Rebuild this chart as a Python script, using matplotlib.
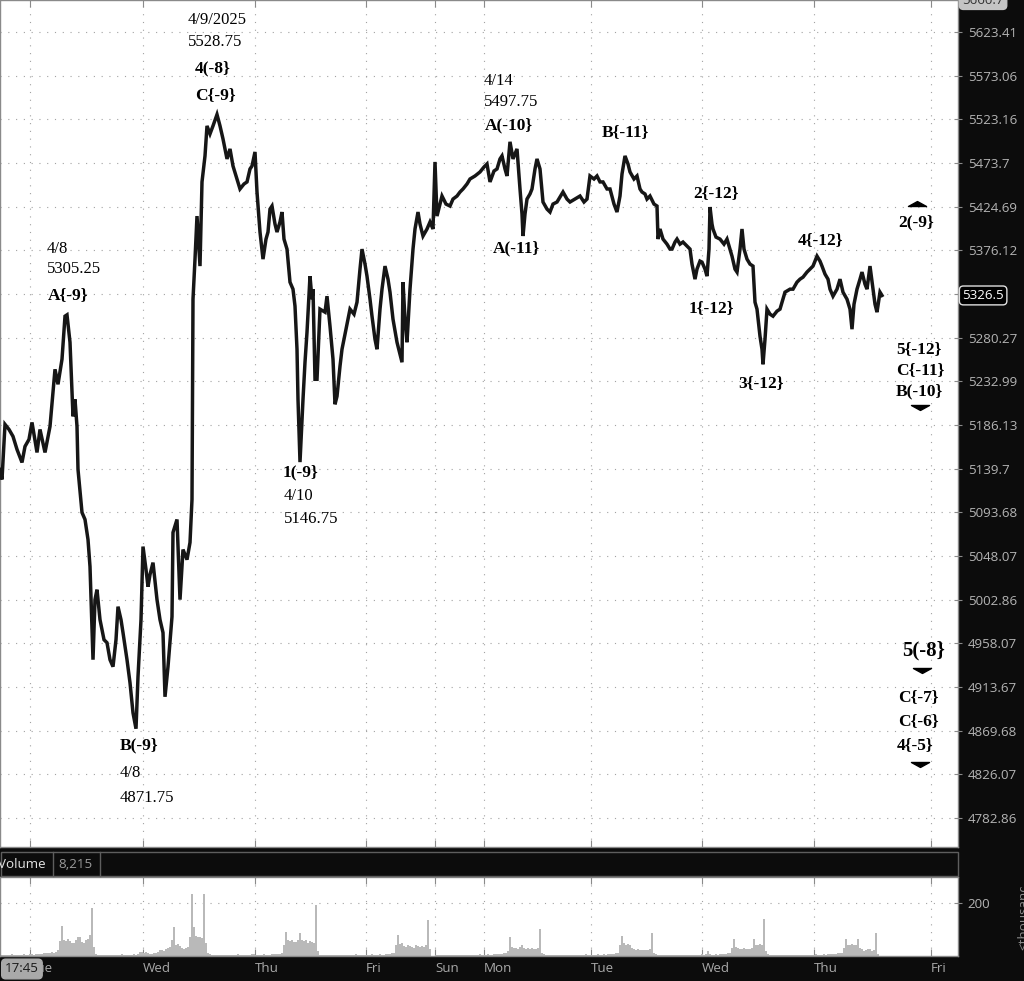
import matplotlib
matplotlib.use("Agg")
import matplotlib.pyplot as plt
from matplotlib import transforms
from matplotlib.patches import Rectangle
from matplotlib.ticker import NullLocator, FixedLocator, FixedFormatter
from matplotlib.path import Path

# ---------------- data ----------------
bar_x = [0, 2, 5, 9, 13, 17, 22, 25, 29, 32, 37, 40, 45, 50, 53, 55, 58, 62, 65, 67,
         70, 73, 75, 77, 78, 82, 85, 88, 90, 93, 95, 97, 100, 104, 107, 110, 113, 116, 118, 121,
         123, 127, 130, 133, 136, 138, 141, 143, 146, 148, 150, 153, 157, 160, 163, 165, 168, 172, 173, 177,
         180, 183, 187, 190, 192, 193, 195, 197, 200, 202, 205, 207, 210, 213, 217, 220, 223, 227, 230, 233,
         237, 240, 244, 247, 250, 252, 255, 257, 260, 263, 266, 268, 270, 272, 275, 277, 280, 282, 284, 287,
         290, 293, 295, 297, 298, 300, 302, 303, 305, 307, 310, 312, 313, 315, 317, 320, 325, 327, 330, 333,
         335, 337, 340, 342, 346, 350, 354, 357, 360, 362, 365, 367, 370, 372, 375, 377, 380, 382, 385, 388,
         390, 393, 397, 400, 402, 403, 405, 407, 410, 413, 415, 418, 420, 423, 427, 430, 433, 435, 437, 440,
         442, 446, 450, 453, 457, 460, 463, 467, 470, 475, 480, 484, 487, 490, 494, 497, 500, 502, 505, 507,
         510, 513, 517, 520, 522, 523, 525, 527, 530, 532, 535, 537, 540, 543, 547, 550, 553, 557, 560, 563,
         567, 570, 575, 580, 584, 587, 590, 594, 597, 600, 603, 607, 610, 614, 617, 620, 622, 625, 628, 630,
         634, 637, 640, 642, 645, 647, 650, 654, 657, 658, 660, 663, 667, 670, 672, 675, 677, 680, 683, 687,
         690, 692, 695, 697, 700, 702, 705, 707, 709, 710, 712, 713, 716, 720, 724, 727, 730, 732, 735, 737,
         740, 742, 744, 747, 750, 753, 755, 757, 760, 762, 763, 765, 767, 770, 773, 777, 780, 783, 785, 790,
         793, 797, 800, 803, 807, 810, 813, 817, 820, 822, 825, 828, 830, 833, 837, 840, 843, 847, 850, 852,
         854, 857, 860, 862, 865, 867, 870, 873, 875, 877, 880, 882]

price = [5139.0, 5128.4, 5186.9, 5181.5, 5174.1, 5160.2, 5146.4, 5163.4, 5170.9, 5189.0, 5157.0, 5181.5, 5157.0, 5184.7, 5221.3, 5246.1, 5229.9, 5257.0, 5303.8, 5305.25,
         5275.4, 5195.5, 5213.7, 5184.7, 5139.0, 5093.6, 5086.3, 5065.3, 5037.2, 4941.5, 5003.0, 5013.3, 4982.4, 4961.9, 4958.8, 4941.5, 4934.4, 4961.9, 4995.8, 4982.4,
         4969.1, 4941.5, 4918.1, 4887.7, 4871.75, 4924.2, 4982.4, 5058.0, 5034.1, 5016.4, 5028.9, 5041.3, 5003.0, 4982.4, 4969.1, 4903.9, 4934.4, 4985.5, 5072.7, 5086.3,
         5003.0, 5054.9, 5044.4, 5062.2, 5107.3, 5322.4, 5366.5, 5414.3, 5358.8, 5452.5, 5481.8, 5515.8, 5506.7, 5515.8, 5528.75, 5515.8, 5501.0, 5478.4, 5489.7, 5470.4,
         5455.8, 5444.6, 5450.2, 5452.5, 5467.1, 5470.4, 5486.3, 5441.2, 5396.5, 5366.5, 5388.7, 5396.5, 5422.1, 5425.5, 5405.4, 5396.5, 5407.7, 5418.8, 5388.7, 5377.6,
         5341.1, 5333.4, 5314.8, 5267.8, 5213.7, 5146.75, 5192.3, 5213.7, 5253.7, 5286.3, 5347.7, 5322.4, 5333.4, 5235.3, 5235.3, 5311.5, 5308.2, 5325.7, 5292.9, 5257.0,
         5208.4, 5217.0, 5249.4, 5267.8, 5289.6, 5311.5, 5306.0, 5319.1, 5355.5, 5377.6, 5361.0, 5347.7, 5322.4, 5303.8, 5278.6, 5267.8, 5311.5, 5333.4, 5358.8, 5344.4,
         5330.1, 5300.5, 5275.4, 5262.4, 5253.7, 5341.1, 5300.5, 5275.4, 5333.4, 5377.6, 5399.9, 5418.8, 5405.4, 5392.1, 5399.9, 5407.7, 5399.9, 5475.0, 5414.3, 5427.7,
         5436.7, 5427.7, 5425.5, 5433.3, 5436.7, 5441.2, 5444.6, 5450.2, 5455.8, 5459.2, 5463.7, 5469.3, 5472.7, 5452.5, 5464.8, 5467.1, 5478.4, 5481.8, 5467.1, 5459.2,
         5497.75, 5478.4, 5489.7, 5444.6, 5416.6, 5392.1, 5416.6, 5433.3, 5439.0, 5444.6, 5467.1, 5478.4, 5467.1, 5430.0, 5422.1, 5418.8, 5427.7, 5430.0, 5435.6, 5441.2,
         5433.3, 5430.0, 5433.3, 5436.7, 5430.0, 5433.3, 5459.2, 5455.8, 5459.2, 5452.5, 5452.5, 5444.6, 5444.6, 5427.7, 5418.8, 5436.7, 5461.4, 5481.8, 5472.7, 5463.7,
         5455.8, 5459.2, 5444.6, 5441.2, 5439.0, 5433.3, 5436.7, 5427.7, 5425.5, 5388.7, 5399.9, 5388.7, 5383.1, 5377.6, 5377.6, 5385.4, 5388.7, 5383.1, 5385.4, 5380.9,
         5377.6, 5361.0, 5344.4, 5355.5, 5364.3, 5363.2, 5355.5, 5347.7, 5377.6, 5424.4, 5405.4, 5399.9, 5390.9, 5388.7, 5383.1, 5388.7, 5377.6, 5369.8, 5355.5, 5352.2,
         5377.6, 5399.9, 5377.6, 5366.5, 5361.0, 5358.8, 5319.1, 5311.5, 5281.9, 5267.8, 5251.5, 5278.6, 5311.5, 5306.0, 5303.8, 5309.3, 5311.5, 5322.4, 5330.1, 5333.4,
         5333.4, 5341.1, 5344.4, 5346.6, 5352.2, 5355.5, 5358.8, 5369.8, 5364.3, 5358.8, 5350.0, 5344.4, 5333.4, 5325.7, 5333.4, 5344.4, 5330.1, 5322.4, 5311.5, 5289.6,
         5316.9, 5333.4, 5344.4, 5352.2, 5338.9, 5333.4, 5358.8, 5333.4, 5316.9, 5308.2, 5330.1, 5326.5]

# price axis tick labels (right scale)
price_ticks = [5623.41, 5573.06, 5523.16, 5473.70, 5424.69, 5376.12, 5328.00, 5280.27, 5232.99,
               5186.13, 5139.70, 5093.68, 5048.07, 5002.86, 4958.07, 4913.67, 4869.68, 4826.07, 4782.86]
price_tick_labels = ["5623.41", "5573.06", "5523.16", "5473.7", "5424.69", "5376.12", "", "5280.27", "5232.99",
                     "5186.13", "5139.7", "5093.68", "5048.07", "5002.86", "4958.07", "4913.67", "4869.68", "4826.07", "4782.86"]
price_top = 5660.7
price_bottom = 4754.5
last_price = 5326.5

# day separators (bar index) and labels
day_x = [30, 143, 255, 366, 435, 484, 591, 702, 814, 931]
day_labels = ["Tue", "Wed", "Thu", "Fri", "Sun", "Mon", "Tue", "Wed", "Thu", "Fri"]

# volume (thousands), segments of 2-bar steps
vol_start = [0, 48, 98, 160, 208, 284, 320, 396, 436, 508, 544, 620, 656, 732, 768, 844]
vol_s0 = [4, 3, 5, 4, 3, 4, 6, 5, 4, 3, 5, 4, 6, 5, 4, 7, 6, 5, 8, 6, 9, 8, 10, 11]
vol_s1 = [12, 10, 14, 12, 16, 22, 55, 114, 62, 58, 64, 55, 50, 48, 62, 73, 70, 54, 50, 60, 66, 80, 181, 35, 8]
vol_s2 = [5, 4, 3, 4, 3, 5, 4, 3, 4, 5, 3, 4, 6, 5, 4, 3, 5, 4, 6, 5, 8, 16, 15, 12, 14, 10, 8, 9, 12, 10, 14]
vol_s3 = [22, 24, 20, 25, 30, 35, 60, 111, 42, 45, 38, 30, 28, 32, 35, 73, 232, 111, 75, 70, 73, 67, 232, 50]
vol_s4 = [10, 6, 5, 4, 3, 4, 5, 3, 4, 3, 5, 4, 3, 4, 5, 6, 4, 3, 4, 3, 5, 4, 6, 8, 5, 4, 3, 4, 6, 5, 4, 5, 6, 8, 7, 6, 8, 10]
vol_s5 = [40, 92, 60, 58, 62, 54, 52, 60, 86, 62, 55, 60, 50, 55, 52, 48, 194, 20]
vol_s6 = [5, 4, 3, 4, 3, 3, 4, 5, 3, 4, 3, 4, 5, 4, 3, 3, 4, 5, 6, 4, 3, 4, 5, 4, 3, 4, 6, 5, 4, 5, 6, 4, 5, 6, 8, 7, 10, 12]
vol_s7 = [40, 80, 45, 48, 38, 35, 40, 36, 35, 32, 42, 36, 35, 38, 34, 40, 137, 25]
vol_s8 = [4, 3, 5, 4, 3, 4, 3, 3, 4, 5, 4, 3, 4, 3, 5, 4, 3, 4, 5, 4, 3, 4, 6, 5, 4, 5, 6, 4, 5, 6, 8, 7, 6, 8, 10, 12]
vol_s9 = [20, 73, 35, 30, 32, 28, 35, 42, 30, 28, 30, 26, 29, 25, 27, 30, 103, 12]
vol_s10 = [6, 4, 3, 4, 5, 3, 4, 3, 4, 5, 4, 3, 4, 5, 3, 4, 5, 4, 3, 4, 5, 6, 4, 3, 4, 5, 4, 6, 5, 4, 6, 5, 7, 6, 8, 9, 10, 12]
vol_s11 = [40, 74, 50, 42, 45, 40, 30, 25, 23, 25, 24, 22, 23, 24, 22, 25, 87, 10]
vol_s12 = [6, 4, 3, 4, 3, 4, 5, 3, 4, 3, 5, 4, 3, 4, 5, 4, 3, 4, 5, 4, 3, 4, 5, 6, 5, 8, 17, 6, 5, 4, 6, 5, 6, 7, 8, 9, 10, 12]
vol_s13 = [30, 64, 35, 30, 28, 25, 30, 28, 25, 26, 30, 64, 42, 40, 45, 42, 138, 20]
vol_s14 = [6, 4, 3, 4, 5, 3, 4, 3, 4, 3, 5, 4, 3, 4, 5, 4, 3, 4, 5, 4, 3, 4, 5, 4, 6, 5, 4, 5, 6, 5, 6, 7, 8, 7, 9, 10, 11, 12]
vol_s15 = [30, 64, 42, 40, 45, 42, 40, 64, 30, 25, 20, 22, 28, 25, 20, 22, 87, 8]
vol_segments = [vol_s0, vol_s1, vol_s2, vol_s3, vol_s4, vol_s5, vol_s6, vol_s7,
                vol_s8, vol_s9, vol_s10, vol_s11, vol_s12, vol_s13, vol_s14, vol_s15]
vol_last = "8,215"

# annotations (bar index, price)
ann_text = ["4/8", "5305.25", "A{-9}", "4/9/2025", "5528.75", "4(-8}", "C{-9}", "B(-9}", "4/8", "4871.75",
            "1(-9}", "4/10", "5146.75", "4/14", "5497.75", "A(-10}", "A(-11}", "B{-11}", "2{-12}", "1{-12}",
            "3{-12}", "4{-12}", "2(-9}", "5{-12}", "C{-11}", "B(-10}", "5(-8}", "C{-7}", "C{-6}", "4{-5}"]
ann_x = [47, 47, 48, 188, 188, 195, 195, 120, 120, 120,
         283, 284, 284, 484, 484, 485, 493, 602, 693, 689,
         738, 798, 898, 896, 896, 896, 902, 898, 898, 897]
ann_price = [5377.6, 5355.5, 5326.8, 5637.6, 5612.2, 5581.0, 5551.2, 4854.6, 4827.6, 4802.8,
             5135.8, 5110.5, 5087.3, 5567.2, 5543.2, 5516.9, 5378.7, 5509.0, 5440.1, 5312.6,
             5231.0, 5387.6, 5407.7, 5267.8, 5245.0, 5222.3, 4950.6, 4903.9, 4879.7, 4855.6]
ann_bold = [0, 0, 1, 0, 0, 1, 1, 1, 0, 0,
            1, 0, 0, 0, 0, 1, 1, 1, 1, 1,
            1, 1, 1, 1, 1, 1, 1, 1, 1, 1]
ann_size = [12, 12, 12.5, 12, 12, 12.5, 12.5, 12.5, 12, 12,
            12.5, 12, 12, 12, 12, 12.5, 12.5, 12.5, 12.5, 12.5,
            12.5, 12.5, 12.5, 12.5, 12.5, 12.5, 15, 12.5, 12.5, 12.5]

tri_x = [917, 920, 922, 920]
tri_price = [5425.2, 5207.3, 4933.3, 4838.6]
tri_up = [True, False, False, False]

# ---------------- layout ----------------
W, H = 1024, 981
BG = "#0c0c0c"
fig = plt.figure(figsize=(W / 100, H / 100), dpi=100)
fig.patch.set_facecolor(BG)


def box(x0, y0, x1, y1):
    return [x0 / W, 1 - y1 / H, (x1 - x0) / W, (y1 - y0) / H]


grid_kw = dict(color="#a2a2a2", linewidth=0.8, linestyle=(0, (1, 6)))
label_font = "Open Sans"
label_col = "#b4b4b4"

# ---- price panel ----
ax = fig.add_axes(box(0, 0, 958, 847))
ax.set_facecolor("white")
ax.set_yscale("log")
ax.set_xlim(0, 958)
ax.set_ylim(price_bottom, price_top)
ax.yaxis.set_major_locator(FixedLocator(price_ticks))
ax.yaxis.set_major_formatter(FixedFormatter(price_tick_labels))
ax.yaxis.set_minor_locator(NullLocator())
ax.yaxis.tick_right()
ax.tick_params(axis="y", which="major", direction="inout", length=6, width=0.8,
               color="#8a8a8a", labelcolor=label_col, labelsize=9.6, pad=4)
for t in ax.get_yticklabels():
    t.set_fontfamily(label_font)
ax.set_xticks(day_x)
ax.set_xticklabels([])
ax.tick_params(axis="x", direction="in", length=5, width=0.8, color="#8a8a8a",
               top=True, bottom=True)
for ty in price_ticks:
    ax.axhline(ty, zorder=0, **grid_kw)
for dx in day_x:
    ax.axvline(dx, zorder=0, **grid_kw)
for s in ax.spines.values():
    s.set_color("#8a8a8a")
    s.set_linewidth(1.0)

ax.plot(bar_x, price, color="#161616", lw=2.5, solid_joinstyle="miter", zorder=3)

for s, x, p, b, fs in zip(ann_text, ann_x, ann_price, ann_bold, ann_size):
    ax.text(x, p, s, ha="left", va="center", fontfamily="Liberation Serif",
            fontweight="bold" if b else "normal", fontsize=fs, color="black", zorder=4)

up_marker = Path([(-1, 0), (1, 0), (0, 0.55), (-1, 0)],
                 [Path.MOVETO, Path.LINETO, Path.LINETO, Path.CLOSEPOLY])
down_marker = Path([(-1, 0), (1, 0), (0, -0.55), (-1, 0)],
                   [Path.MOVETO, Path.LINETO, Path.LINETO, Path.CLOSEPOLY])
for x, p, up in zip(tri_x, tri_price, tri_up):
    ax.plot([x], [p], marker=up_marker if up else down_marker, markersize=13,
            color="black", linestyle="none", zorder=4)

# right scale special boxes
blend = transforms.blended_transform_factory(ax.transAxes, ax.transData)
ax.text(1.0045, last_price, f"{last_price}", transform=blend, ha="left", va="center",
        fontsize=9.6, fontfamily=label_font, color="white", clip_on=False,
        bbox=dict(boxstyle="round,pad=0.22,rounding_size=0.3", fc="black", ec="#e0e0e0", lw=1.0))
ax.text(1.0045, price_top, f"{price_top}", transform=blend, ha="left", va="center",
        fontsize=9.6, fontfamily=label_font, color="#333333", clip_on=False,
        bbox=dict(boxstyle="round,pad=0.22,rounding_size=0.3", fc="#c4c4c4", ec="#c4c4c4", lw=1.0))

# ---- volume header band ----
fig.patches.append(Rectangle((0.5 / W, 1 - 876 / H), 957 / W, 24 / H, transform=fig.transFigure,
                             facecolor=BG, edgecolor="#5e5e5e", lw=1.0))
fig.lines.append(plt.Line2D([53 / W, 53 / W], [1 - 876 / H, 1 - 852 / H], transform=fig.transFigure,
                            color="#5e5e5e", lw=1.0))
fig.lines.append(plt.Line2D([100 / W, 100 / W], [1 - 876 / H, 1 - 852 / H], transform=fig.transFigure,
                            color="#5e5e5e", lw=1.0))
fig.text(-2 / W, 1 - 864 / H, "Volume", ha="left", va="center", fontsize=9.6,
         fontfamily=label_font, color="#e4e4e4")
fig.text(58 / W, 1 - 864 / H, vol_last, ha="left", va="center", fontsize=9.6,
         fontfamily=label_font, color="#9a9a9a")

# ---- volume panel ----
axv = fig.add_axes(box(0, 877, 958, 956))
axv.set_facecolor("white")
axv.set_xlim(0, 958)
axv.set_ylim(0, 298)
for x0, seg in zip(vol_start, vol_segments):
    xs = [x0 + 2 * i for i in range(len(seg))]
    axv.bar(xs, seg, width=2.0, color="#b9b9b9", align="center", linewidth=0, zorder=2)
axv.yaxis.tick_right()
axv.set_yticks([200])
axv.set_yticklabels(["200"])
axv.tick_params(axis="y", direction="inout", length=6, width=0.8, color="#8a8a8a",
                labelcolor=label_col, labelsize=9.6, pad=4)
for t in axv.get_yticklabels():
    t.set_fontfamily(label_font)
axv.set_xticks(day_x)
axv.set_xticklabels([])
axv.tick_params(axis="x", direction="in", length=5, width=0.8, color="#8a8a8a", top=True, bottom=True)
axv.axhline(200, zorder=0, **grid_kw)
for dx in day_x:
    axv.axvline(dx, zorder=0, **grid_kw)
for s in axv.spines.values():
    s.set_color("#8a8a8a")
    s.set_linewidth(1.0)

# rotated unit label, partly outside the canvas as in the source
unit_txt = fig.text(1027 / W, 1 - 950 / H, "<thousands>", rotation=90, rotation_mode="anchor",
                    ha="left", va="baseline", fontsize=9.6, fontfamily=label_font, color="#8a8a8a")
unit_txt.set_clip_path(Rectangle((985 / W, 1 - 957 / H), 39 / W, 70 / H, transform=fig.transFigure))

# ---- bottom time axis ----
tblend = transforms.blended_transform_factory(axv.transData, fig.transFigure)
for dx, lab in zip(day_x, day_labels):
    fig.text(dx, 1 - 969 / H, lab, transform=tblend, ha="left", va="center", fontsize=9.6,
             fontfamily=label_font, color="#a8a8a8")
fig.text(5 / W, 1 - 969 / H, "17:45", ha="left", va="center", fontsize=9.6, fontfamily=label_font,
         color="#1a1a1a", zorder=10,
         bbox=dict(boxstyle="round,pad=0.25,rounding_size=0.3", fc="#a9a9a9", ec="#a9a9a9"))

fig.savefig("out.png", dpi=100, facecolor=BG)
